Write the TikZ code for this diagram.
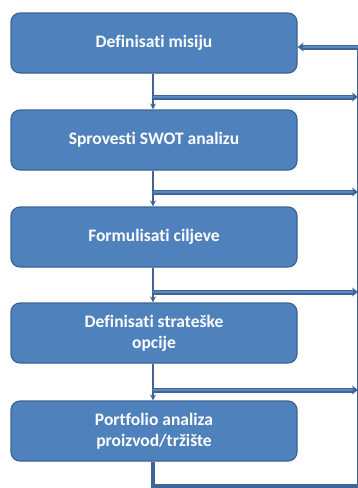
\documentclass[tikz,border=0pt]{standalone}
\usepackage{fontspec}
\setmainfont{Carlito}[Ligatures=NoCommon]
\usetikzlibrary{arrows.meta,calc}
\definecolor{boxfill}{HTML}{4F81BD}
\definecolor{boxline}{HTML}{3A6496}
\definecolor{linedark}{HTML}{3F6596}
\definecolor{linemid}{HTML}{5A88C0}
\begin{document}
\begin{tikzpicture}[x=1pt,y=-1pt,
  stepbox/.style={draw=boxline, line width=1.2, fill=boxfill, rounded corners=9,
    minimum width=286, minimum height=60, inner sep=0, align=center,
    text=white, font=\fontsize{17.5}{21}\selectfont\bfseries},
  flow/.style={draw=linedark, line width=2.8, -{Stealth[length=6,width=6]}},
  branch/.style={draw=linedark, line width=5, -{Stealth[length=6,width=9]},
    postaction={draw=linemid, line width=2.2, -, shorten >=5}},
  loopline/.style={draw=linedark, line width=3.4}]
  \useasboundingbox (0,0) rectangle (358,488);
  % process steps
  \node[stepbox] (b1) at (154,43)  {Definisati misiju};
  \node[stepbox] (b2) at (154,140) {Sprovesti SWOT analizu};
  \node[stepbox] (b3) at (154,237) {Formulisati ciljeve};
  \node[stepbox] (b4) at (154,333) {Definisati strateške\\opcije};
  \node[stepbox] (b5) at (154,431) {Portfolio analiza\\proizvod/tržište};
  % side rail and feedback corners
  \coordinate (r1) at (358.5,47);
  \coordinate (c0) at (153,486);
  \coordinate (c1) at (358.5,486);
  % branch points between steps
  \coordinate (j1) at (153,97);
  \coordinate (j2) at (153,192);
  \coordinate (j3) at (153,292);
  \coordinate (j4) at (153,390);
  \coordinate (e1) at (358,97);
  \coordinate (e2) at (358,192);
  \coordinate (e3) at (358,292);
  \coordinate (e4) at (358,390);
  % downward flow
  \draw[flow] (b1.south -| j1) -- (b2.north -| j1);
  \draw[flow] (b2.south -| j1) -- (b3.north -| j1);
  \draw[flow] (b3.south -| j1) -- (b4.north -| j1);
  \draw[flow] (b4.south -| j1) -- (b5.north -| j1);
  % branches to the side rail
  \draw[branch] (j1) -- (e1);
  \draw[branch] (j2) -- (e2);
  \draw[branch] (j3) -- (e3);
  \draw[branch] (j4) -- (e4);
  % feedback loop back to the first step
  \draw[loopline] (b5.south -| c0) -- (c0) -- (c1) -- (r1);
  \draw[branch] (r1) -- (b1.east |- r1);
\end{tikzpicture}
\end{document}
